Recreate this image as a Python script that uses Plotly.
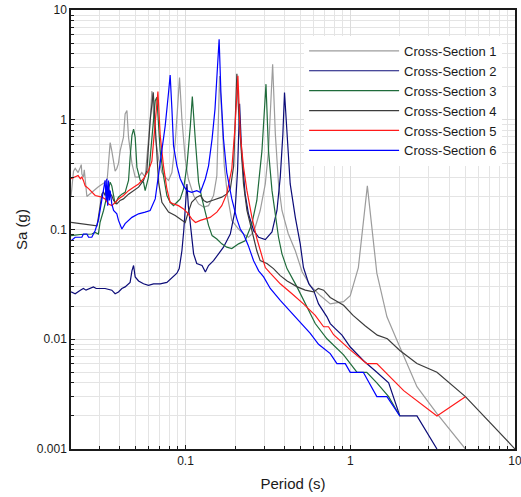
import plotly.graph_objects as go

# ---------------- data ----------------
names = ["Cross-Section 1", "Cross-Section 2", "Cross-Section 3",
         "Cross-Section 4", "Cross-Section 5", "Cross-Section 6"]
colors = ["#9c9c9c", "#0c0c78", "#1f6b3b", "#3c3c3c", "#ff1a1a", "#0000ff"]

cs1_T = [0.0202, 0.0209, 0.0214, 0.0223, 0.0230, 0.0233, 0.0235, 0.0240, 0.0243, 0.0252,
         0.0296, 0.0325, 0.0335, 0.0341, 0.0349, 0.0357, 0.0366, 0.0374, 0.0383, 0.0392,
         0.0401, 0.0420, 0.0430, 0.0441, 0.0451, 0.0473, 0.0495, 0.0519, 0.0543, 0.0569,
         0.0583, 0.0610, 0.0625, 0.0655, 0.0686, 0.0719, 0.0753, 0.0789, 0.0827, 0.0866,
         0.0894, 0.0920, 0.0951, 0.0996, 0.104, 0.112, 0.120, 0.129, 0.138, 0.148,
         0.155, 0.159, 0.161, 0.168, 0.172, 0.180, 0.191, 0.210, 0.225, 0.241,
         0.253, 0.265, 0.284, 0.305, 0.319, 0.338, 0.351, 0.367, 0.385, 0.420,
         0.464, 0.511, 0.572, 0.658, 0.756, 0.911, 1.00, 1.12, 1.27, 1.45,
         1.67, 1.92, 2.54, 3.36, 5.00]
cs1_Sa = [0.20, 0.34, 0.36, 0.33, 0.37, 0.39, 0.32, 0.30, 0.35, 0.20,
          0.245, 0.27, 0.29, 0.45, 0.62, 0.52, 0.42, 0.34, 0.36, 0.40,
          0.52, 0.69, 1.13, 1.21, 0.69, 0.40, 0.30, 0.30, 0.33, 0.30,
          0.45, 0.98, 1.83, 0.69, 0.44, 0.33, 0.30, 0.28, 0.33, 0.62,
          1.25, 2.42, 1.01, 0.44, 0.29, 0.204, 0.171, 0.160, 0.165, 0.204,
          0.31, 1.25, 2.50, 0.80, 0.38, 0.20, 0.121, 0.101, 0.091, 0.085,
          0.091, 0.105, 0.149, 0.26, 0.52, 3.21, 0.74, 0.26, 0.149, 0.092,
          0.064, 0.041, 0.031, 0.025, 0.021, 0.022, 0.025, 0.045, 0.25, 0.040,
          0.016, 0.0098, 0.0037, 0.0021, 0.001]

cs2_T = [0.0202, 0.0214, 0.0230, 0.0240, 0.0249, 0.0264, 0.0276, 0.0287, 0.0303, 0.0325,
         0.0357, 0.0374, 0.0392, 0.0411, 0.0430, 0.0451, 0.0461, 0.0473, 0.0484, 0.0495,
         0.0519, 0.0556, 0.0596, 0.0640, 0.0702, 0.0771, 0.0846, 0.0887, 0.0916, 0.0951,
         0.0976, 0.0996, 0.102, 0.104, 0.107, 0.109, 0.112, 0.117, 0.126, 0.132,
         0.138, 0.148, 0.159, 0.170, 0.187, 0.200, 0.207, 0.213, 0.219, 0.226,
         0.230, 0.241, 0.259, 0.278, 0.305, 0.335, 0.359, 0.376, 0.390, 0.399,
         0.413, 0.432, 0.464, 0.497, 0.520, 0.560, 0.599, 0.642, 0.722, 0.756,
         0.811, 0.891, 1.00, 1.20, 1.45, 1.71, 2.00, 2.54, 3.36]
cs2_Sa = [0.027, 0.026, 0.028, 0.029, 0.028, 0.029, 0.030, 0.029, 0.029, 0.029,
          0.028, 0.026, 0.027, 0.029, 0.030, 0.032, 0.033, 0.042, 0.047, 0.037,
          0.034, 0.032, 0.031, 0.032, 0.032, 0.033, 0.037, 0.040, 0.044, 0.064,
          0.098, 0.149, 0.26, 0.165, 0.109, 0.077, 0.060, 0.049, 0.047, 0.041,
          0.047, 0.052, 0.060, 0.069, 0.091, 0.149, 0.344, 1.40, 0.52, 0.279,
          0.211, 0.139, 0.098, 0.085, 0.081, 0.095, 0.149, 0.30, 0.74, 1.77,
          0.74, 0.26, 0.129, 0.074, 0.045, 0.032, 0.028, 0.021, 0.016, 0.0139,
          0.0125, 0.0109, 0.0085, 0.0064, 0.005, 0.004, 0.002, 0.002, 0.001]

cs3_T = [0.0202, 0.0230, 0.0270, 0.0283, 0.0296, 0.0303, 0.0318, 0.0325, 0.0341, 0.0349,
         0.0357, 0.0366, 0.0374, 0.0392, 0.0411, 0.0430, 0.0451, 0.0461, 0.0473, 0.0484,
         0.0495, 0.0507, 0.0531, 0.0556, 0.0569, 0.0596, 0.0625, 0.0655, 0.0670, 0.0686,
         0.0702, 0.0735, 0.0771, 0.0807, 0.0846, 0.0887, 0.0929, 0.0973, 0.102, 0.107,
         0.110, 0.115, 0.120, 0.126, 0.132, 0.138, 0.145, 0.155, 0.166, 0.178,
         0.191, 0.210, 0.230, 0.253, 0.271, 0.291, 0.308, 0.319, 0.335, 0.351,
         0.367, 0.385, 0.413, 0.475, 0.546, 0.613, 0.722, 0.911, 1.10, 1.26,
         1.45, 1.71, 2.00]
cs3_Sa = [0.088, 0.090, 0.091, 0.094, 0.091, 0.116, 0.149, 0.172, 0.226, 0.27,
          0.25, 0.197, 0.171, 0.197, 0.21, 0.218, 0.28, 0.45, 0.72, 0.82,
          0.69, 0.37, 0.28, 0.27, 0.226, 0.30, 0.69, 1.49, 1.60, 0.88,
          0.52, 0.31, 0.204, 0.177, 0.165, 0.177, 0.190, 0.234, 0.38, 0.88,
          1.63, 0.62, 0.27, 0.190, 0.144, 0.109, 0.088, 0.082, 0.074, 0.069,
          0.067, 0.074, 0.079, 0.113, 0.184, 0.52, 2.11, 0.52, 0.226, 0.129,
          0.085, 0.060, 0.044, 0.030, 0.0197, 0.0139, 0.0101, 0.0072, 0.005, 0.005,
          0.004, 0.003, 0.002]

cs4_T = [0.0202, 0.0290, 0.0296, 0.0303, 0.0311, 0.0318, 0.0325, 0.0333, 0.0341, 0.0349,
         0.0357, 0.0366, 0.0383, 0.0401, 0.0420, 0.0451, 0.0484, 0.0519, 0.0556, 0.0583,
         0.0610, 0.0637, 0.0655, 0.0686, 0.0719, 0.0753, 0.0789, 0.0866, 0.0929, 0.0996,
         0.104, 0.109, 0.117, 0.123, 0.129, 0.135, 0.145, 0.155, 0.166, 0.178,
         0.187, 0.196, 0.200, 0.205, 0.210, 0.215, 0.225, 0.236, 0.247, 0.259,
         0.271, 0.284, 0.312, 0.342, 0.376, 0.414, 0.477, 0.533, 0.599, 0.640,
         0.689, 0.756, 0.911, 1.04, 1.23, 1.46, 1.68, 2.00, 2.54, 3.36,
         5.00, 10.0]
cs4_Sa = [0.116, 0.108, 0.129, 0.160, 0.211, 0.22, 0.204, 0.25, 0.236, 0.211,
          0.204, 0.184, 0.171, 0.184, 0.190, 0.21, 0.226, 0.243, 0.28, 0.344,
          0.98, 1.78, 0.88, 0.27, 0.177, 0.158, 0.144, 0.134, 0.125, 0.116,
          0.144, 0.177, 0.197, 0.204, 0.184, 0.177, 0.184, 0.190, 0.197, 0.211,
          0.234, 0.38, 0.79, 2.62, 1.21, 0.74, 0.26, 0.149, 0.113, 0.085,
          0.064, 0.052, 0.049, 0.044, 0.038, 0.034, 0.030, 0.028, 0.027, 0.029,
          0.028, 0.024, 0.0204, 0.0165, 0.0133, 0.0109, 0.0101, 0.0079, 0.006, 0.005,
          0.003, 0.001]

cs5_T = [0.0202, 0.0214, 0.0223, 0.0230, 0.0235, 0.0240, 0.0246, 0.0258, 0.0270, 0.0283,
         0.0311, 0.0325, 0.0341, 0.0357, 0.0374, 0.0392, 0.0420, 0.0451, 0.0484, 0.0519,
         0.0556, 0.0596, 0.0625, 0.0655, 0.0680, 0.0702, 0.0735, 0.0771, 0.0807, 0.0846,
         0.0906, 0.0973, 0.104, 0.109, 0.115, 0.123, 0.132, 0.141, 0.155, 0.166,
         0.178, 0.191, 0.200, 0.208, 0.215, 0.225, 0.236, 0.253, 0.271, 0.291,
         0.305, 0.327, 0.376, 0.443, 0.520, 0.613, 0.689, 0.738, 0.792, 1.00,
         1.26, 1.45, 2.11, 3.36, 5.00]
cs5_Sa = [0.29, 0.30, 0.31, 0.29, 0.30, 0.28, 0.25, 0.236, 0.218, 0.204,
          0.197, 0.190, 0.171, 0.165, 0.176, 0.190, 0.204, 0.226, 0.243, 0.26,
          0.29, 0.344, 0.42, 0.98, 1.81, 0.72, 0.38, 0.234, 0.177, 0.171,
          0.165, 0.154, 0.139, 0.125, 0.116, 0.121, 0.125, 0.129, 0.144, 0.165,
          0.211, 0.356, 0.88, 2.51, 0.74, 0.37, 0.226, 0.129, 0.083, 0.056,
          0.045, 0.040, 0.032, 0.026, 0.021, 0.0165, 0.013, 0.013, 0.011, 0.008,
          0.006, 0.006, 0.0034, 0.002, 0.003]

cs6_T = [0.0202, 0.0214, 0.0235, 0.0240, 0.0252, 0.0258, 0.0270, 0.0276, 0.0283, 0.0296,
         0.0303, 0.0311, 0.0318, 0.0325, 0.0330, 0.0333, 0.0337, 0.0341, 0.0345, 0.0349,
         0.0357, 0.0366, 0.0383, 0.0392, 0.0411, 0.0430, 0.0473, 0.0519, 0.0569, 0.0610,
         0.0655, 0.0686, 0.0719, 0.0753, 0.0789, 0.0807, 0.0827, 0.0846, 0.0887, 0.0929,
         0.0973, 0.102, 0.109, 0.117, 0.123, 0.132, 0.138, 0.145, 0.151, 0.156,
         0.160, 0.164, 0.170, 0.178, 0.191, 0.205, 0.215, 0.225, 0.240, 0.259,
         0.278, 0.298, 0.327, 0.376, 0.443, 0.497, 0.572, 0.642, 0.756, 0.830,
         0.933, 1.00, 1.20, 1.45, 1.67, 2.00]
cs6_Sa = [0.079, 0.085, 0.085, 0.091, 0.091, 0.085, 0.085, 0.092, 0.098, 0.121,
          0.149, 0.190, 0.211, 0.28, 0.184, 0.29, 0.165, 0.28, 0.184, 0.226,
          0.171, 0.149, 0.139, 0.121, 0.101, 0.113, 0.129, 0.139, 0.144, 0.149,
          0.190, 0.31, 0.50, 0.88, 1.77, 2.55, 1.25, 0.58, 0.38, 0.29,
          0.25, 0.226, 0.218, 0.226, 0.218, 0.29, 0.38, 0.67, 1.25, 3.10,
          5.42, 1.77, 0.67, 0.33, 0.190, 0.125, 0.101, 0.091, 0.072, 0.052,
          0.042, 0.037, 0.029, 0.0226, 0.0171, 0.0144, 0.0113, 0.0090, 0.0074, 0.006,
          0.006, 0.005, 0.005, 0.003, 0.003, 0.002]

periods = [cs1_T, cs2_T, cs3_T, cs4_T, cs5_T, cs6_T]
accels = [cs1_Sa, cs2_Sa, cs3_Sa, cs4_Sa, cs5_Sa, cs6_Sa]

x_tickvals = [0.1, 1, 10]
x_ticktext = ["0.1", "1", "10"]
y_tickvals = [0.001, 0.01, 0.1, 1, 10]
y_ticktext = ["0.001", "0.01", "0.1", "1", "10"]

# ---------------- figure ----------------
fig = go.Figure()
for nm, col, T, Sa in zip(names, colors, periods, accels):
    fig.add_trace(go.Scatter(x=T, y=Sa, mode="lines", name=nm,
                             line=dict(color=col, width=1.2)))

font = "Liberation Sans, Arial, sans-serif"
axis_common = dict(
    type="log", showline=True, linecolor="#1a1a1a", linewidth=1.5, mirror=True,
    showgrid=True, gridcolor="#dcdcdc", gridwidth=1,
    ticks="inside", ticklen=4, tickcolor="#1a1a1a",
    minor=dict(showgrid=True, gridcolor="#e4e4e4", gridwidth=1, dtick="D1",
               ticks="inside", ticklen=3, tickcolor="#1a1a1a"),
    tickfont=dict(family=font, size=12, color="#1a1a1a"),
    ticklabeloverflow="allow",
    zeroline=False,
)
fig.update_xaxes(**axis_common, range=[-1.695, 1], tickmode="array",
                 tickvals=x_tickvals, ticktext=x_ticktext,
                 title=dict(text="Period (s)", font=dict(family=font, size=15, color="#1a1a1a"),
                            standoff=11))
fig.update_yaxes(**axis_common, range=[-3, 1], tickmode="array",
                 tickvals=y_tickvals, ticktext=y_ticktext,
                 title=dict(text="Sa (g)", font=dict(family=font, size=15, color="#1a1a1a"),
                            standoff=6))

# white panel behind the legend (covers grid lines only)
fig.add_shape(type="rect", xref="paper", yref="paper",
              x0=0.507, x1=0.984, y0=0.646, y1=0.958,
              fillcolor="white", line=dict(width=0), layer="below")

fig.update_layout(
    width=521, height=497,
    margin=dict(l=71, r=6, t=10, b=48, autoexpand=False),
    paper_bgcolor="white", plot_bgcolor="white",
    font=dict(family=font, size=13, color="#1a1a1a"),
    legend=dict(x=0.525, y=0.941, xanchor="left", yanchor="top",
                bgcolor="white", borderwidth=0, itemwidth=90,
                font=dict(family=font, size=13, color="#1a1a1a"),
                tracegroupgap=0),
    showlegend=True,
)

fig.write_html("out.html", config={"displayModeBar": False},
               post_script="document.body.style.margin='0px';document.body.style.overflow='hidden';")
